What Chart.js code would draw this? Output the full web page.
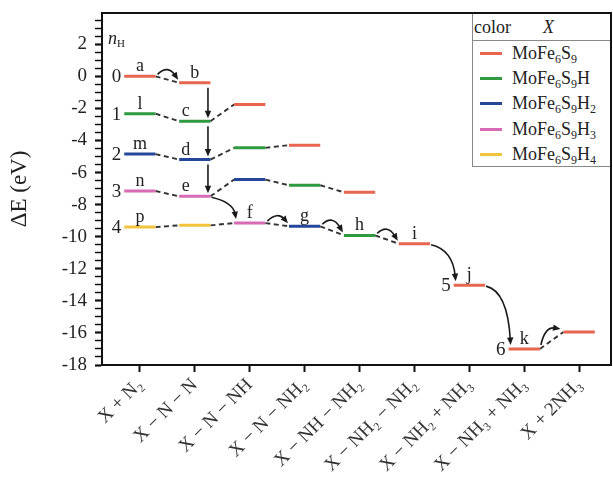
<!DOCTYPE html>
<html>
<head>
<meta charset="utf-8">
<script src="https://cdn.jsdelivr.net/npm/chart.js@4.4.1/dist/chart.umd.min.js"></script>
<style>
    html, body { margin: 0; padding: 0; background: #fff; }
    #wrap { position: relative; width: 613px; height: 488px; }
    #legend {
        position: absolute; left: 472px; top: 14px; width: 138px; height: 153px;
        box-sizing: border-box; border-left: 1px solid #888; border-bottom: 1px solid #888;
        background: #fff; font-family: 'Liberation Serif', 'DejaVu Serif', serif; font-size: 18px; color: #222;
        overflow: hidden; white-space: nowrap;
    }
    #legend .hdr { height: 26px; line-height: 26px; border-bottom: 1px solid #888; padding-left: 1px; }
    #legend .hdr i { margin-left: 32px; }
    #legend .row { height: 25.2px; display: flex; align-items: center; }
    #legend .sw { display: inline-block; flex: none; width: 22px; height: 3px; margin: 0 10px 0 7px; }
    #legend sub { font-size: 12px; vertical-align: -4px; line-height: 0; }
</style>
</head>
<body>
<div id="wrap">
    <canvas id="chart"></canvas>
    <div id="legend"></div>
</div>
<script>
// Reaction steps (x categories)
const columns = ['X + N₂', 'X − N − N', 'X − N − NH', 'X − N − NH₂', 'X − NH − NH₂',
    'X − NH₂ − NH₂', 'X − NH₂ + NH₃', 'X − NH₃ + NH₃', 'X + 2NH₃'];

// Energy levels (eV) per species X, one value per step (null = no level)
const levelsX   = [0, -0.4, -1.75, -4.29, -7.23, -10.44, -13.02, -17.0, -15.94];
const levelsXH  = [-2.33, -2.8, -4.46, -6.79, -9.92, null, null, null, null];
const levelsXH2 = [-4.85, -5.19, -6.44, -9.35, null, null, null, null, null];
const levelsXH3 = [-7.15, -7.48, -9.15, null, null, null, null, null, null];
const levelsXH4 = [-9.4, -9.29, null, null, null, null, null, null, null];

const seriesKeys = ['O', 'G', 'B', 'P', 'Y'];
const seriesNames = ['MoFe<sub>6</sub>S<sub>9</sub>', 'MoFe<sub>6</sub>S<sub>9</sub>H', 'MoFe<sub>6</sub>S<sub>9</sub>H<sub>2</sub>',
    'MoFe<sub>6</sub>S<sub>9</sub>H<sub>3</sub>', 'MoFe<sub>6</sub>S<sub>9</sub>H<sub>4</sub>'];
const seriesColors = ['#e8654f', '#2f9a40', '#25479a', '#d86ab6', '#f2c43c'];
const seriesLevels = [levelsX, levelsXH, levelsXH2, levelsXH3, levelsXH4];

// y axis tick labels
const yTickLabels = [2, 0, -2, -4, -6, -8, -10, -12, -14, -16, -18];

// annotations: level key = series key + step index
const stepLetters = { O0: 'a', O1: 'b', G1: 'c', B1: 'd', P1: 'e', P2: 'f', B3: 'g', G4: 'h',
    O5: 'i', O6: 'j', O7: 'k', G0: 'l', B0: 'm', P0: 'n', Y0: 'p' };
const nHLabels = { O0: '0', G0: '1', B0: '2', P0: '3', Y0: '4', O6: '5', O7: '6' };
const dashedChains = [['O0', 'O1'], ['G0', 'G1', 'O2'], ['B0', 'B1', 'G2', 'O3'],
    ['P0', 'P1', 'B2', 'G3', 'O4'], ['Y0', 'Y1', 'P2', 'B3', 'G4', 'O5'], ['O7', 'O8']];
const arrows = [['O0', 'O1', 'over'], ['O1', 'G1', 'vert'], ['G1', 'B1', 'vert'], ['B1', 'P1', 'vert'],
    ['P1', 'P2', 'down'], ['P2', 'B3', 'over'], ['B3', 'G4', 'over'], ['G4', 'O5', 'over'],
    ['O5', 'O6', 'down'], ['O6', 'O7', 'down'], ['O7', 'O8', 'up']];

const HW = 0.285; // half width of a level, in step units
const serif = "'Liberation Serif', 'DejaVu Serif', serif";
const ink = '#222';

const level = key => {
    const s = seriesKeys.indexOf(key[0]);
    const i = parseInt(key.slice(1), 10);
    return { x: i, y: seriesLevels[s][i] };
};

// legend
document.getElementById('legend').innerHTML =
    '<div class="hdr">color<i>X</i></div>' +
    seriesNames.map((n, k) => `<div class="row"><span class="sw" style="background:${seriesColors[k]}"></span><span>${n}</span></div>`).join('');

// datasets
const datasets = seriesLevels.map((vals, k) => ({
    data: vals.flatMap((v, i) => v === null ? [] : [{ x: i - HW, y: v }, { x: i + HW, y: v }, { x: i, y: null }]),
    borderColor: seriesColors[k],
    borderWidth: 3,
    borderCapStyle: 'butt',
    pointRadius: 0,
    showLine: true,
    order: 1
}));

const dashedData = [];
dashedChains.forEach(chain => {
    for (let j = 0; j < chain.length - 1; j++) {
        const a = level(chain[j]), b = level(chain[j + 1]);
        dashedData.push({ x: a.x + HW, y: a.y }, { x: b.x - HW, y: b.y }, { x: b.x, y: null });
    }
});
datasets.push({
    data: dashedData,
    borderColor: '#333',
    borderWidth: 1.9,
    borderDash: [5, 3.5],
    pointRadius: 0,
    showLine: true,
    order: 2
});

const drawHead = (ctx, x, y, angle) => {
    ctx.save();
    ctx.translate(x, y);
    ctx.rotate(angle);
    ctx.beginPath();
    ctx.moveTo(0, 0);
    ctx.lineTo(-7.5, -3.2);
    ctx.lineTo(-7.5, 3.2);
    ctx.closePath();
    ctx.fill();
    ctx.restore();
};

const annotate = {
    id: 'annotate',
    afterDatasetsDraw(chart) {
        const { ctx, chartArea, scales } = chart;
        const xs = v => scales.x.getPixelForValue(v);
        const ys = v => scales.y.getPixelForValue(v);
        ctx.save();
        ctx.strokeStyle = '#1a1a1a';
        ctx.fillStyle = '#1a1a1a';
        ctx.lineWidth = 1.6;

        // arrows
        arrows.forEach(([f, t, kind]) => {
            const a = level(f), b = level(t);
            if (kind === 'vert') {
                const x = xs(a.x + 0.24);
                const y1 = ys(a.y) + 5, y2 = ys(b.y) - 3;
                ctx.beginPath(); ctx.moveTo(x, y1); ctx.lineTo(x, y2 - 6); ctx.stroke();
                drawHead(ctx, x, y2, Math.PI / 2);
                return;
            }
            let S, E, C;
            if (kind === 'over') {
                S = { x: xs(a.x + HW) + 2, y: ys(a.y) - 2 };
                E = { x: xs(b.x - HW) - 1, y: ys(b.y) - 3 };
                C = { x: (S.x + E.x) / 2, y: Math.min(S.y, E.y) - 10 };
            } else if (kind === 'down') {
                S = { x: xs(a.x + HW) + 1, y: ys(a.y) + 1 };
                E = { x: xs(b.x - HW) + 2, y: ys(b.y) - 4 };
                C = { x: E.x - 3, y: S.y + 5 };
            } else {
                S = { x: xs(a.x + HW) + 1, y: ys(a.y) - 4 };
                E = { x: xs(b.x - HW) - 3, y: ys(b.y) - 3 };
                C = { x: S.x + 4, y: E.y - 3 };
            }
            const ang = Math.atan2(E.y - C.y, E.x - C.x);
            const Ex = E.x - 5 * Math.cos(ang), Ey = E.y - 5 * Math.sin(ang);
            ctx.beginPath(); ctx.moveTo(S.x, S.y); ctx.quadraticCurveTo(C.x, C.y, Ex, Ey); ctx.stroke();
            drawHead(ctx, E.x, E.y, ang);
        });

        // step letters
        ctx.fillStyle = ink;
        ctx.font = `18px ${serif}`;
        ctx.textAlign = 'center';
        ctx.textBaseline = 'alphabetic';
        Object.entries(stepLetters).forEach(([key, txt]) => {
            const p = level(key);
            const shift = arrows.some(a => a[1] === key && a[2] === 'vert') ? -9 : 0;
            ctx.fillText(txt, xs(p.x) + shift, ys(p.y) - 5);
        });

        // hydrogen counts
        ctx.font = `19px ${serif}`;
        ctx.textAlign = 'right';
        ctx.textBaseline = 'middle';
        Object.entries(nHLabels).forEach(([key, txt]) => {
            const p = level(key);
            ctx.fillText(txt, xs(p.x - HW) - 3, ys(p.y) + 1);
        });
        ctx.textAlign = 'left';
        ctx.textBaseline = 'alphabetic';
        ctx.font = `italic 18px ${serif}`;
        ctx.fillText('n', chartArea.left + 6, chartArea.top + 31);
        ctx.font = `11px ${serif}`;
        ctx.fillText('H', chartArea.left + 15, chartArea.top + 34);

        // frame
        ctx.strokeStyle = '#111';
        ctx.lineWidth = 2;
        ctx.strokeRect(chartArea.left, chartArea.top, chartArea.right - chartArea.left, chartArea.bottom - chartArea.top);
        ctx.restore();
    }
};

const yTickValues = [];
for (let v = -18; v <= 3.5; v += 0.5) yTickValues.push(v);

new Chart(document.getElementById('chart'), {
    type: 'scatter',
    data: { datasets },
    options: {
        responsive: true,
        maintainAspectRatio: false,
        animation: false,
        events: [],
        layout: { padding: { top: 13, right: 2, left: 0, bottom: 0 } },
        plugins: { legend: { display: false }, tooltip: { enabled: false } },
        scales: {
            x: {
                type: 'linear', min: -0.69, max: 8.58,
                afterBuildTicks: s => { s.ticks = columns.map((_, i) => ({ value: i })); },
                afterFit: s => { s.height = 123; s.paddingLeft = 0; s.paddingRight = 0; },
                ticks: {
                    callback: v => columns[v], autoSkip: false, minRotation: 45, maxRotation: 45,
                    font: { family: serif, size: 19 }, color: '#333', padding: 2
                },
                grid: { drawOnChartArea: false, tickLength: 7, tickWidth: 2, tickColor: '#111' },
                border: { color: '#111', width: 2 }
            },
            y: {
                type: 'linear', min: -18, max: 3.95,
                afterBuildTicks: s => { s.ticks = yTickValues.map(v => ({ value: v })); },
                afterFit: s => { s.width = 102; s.paddingTop = 0; s.paddingBottom = 0; },
                ticks: {
                    callback: v => yTickLabels.includes(v) ? String(v) : '', autoSkip: false,
                    font: { family: serif, size: 19 }, color: ink, padding: 8
                },
                grid: {
                    drawOnChartArea: false, tickLength: 7, tickColor: '#111',
                    tickWidth: c => (c.tick && yTickLabels.includes(c.tick.value)) ? 2.2 : 1.5
                },
                border: { color: '#111', width: 2 },
                title: {
                    display: true, text: 'ΔE (eV)', color: ink,
                    font: { family: serif, size: 23 }, padding: { top: 6, bottom: 0 }
                }
            }
        }
    },
    plugins: [annotate]
});
</script>
</body>
</html>
